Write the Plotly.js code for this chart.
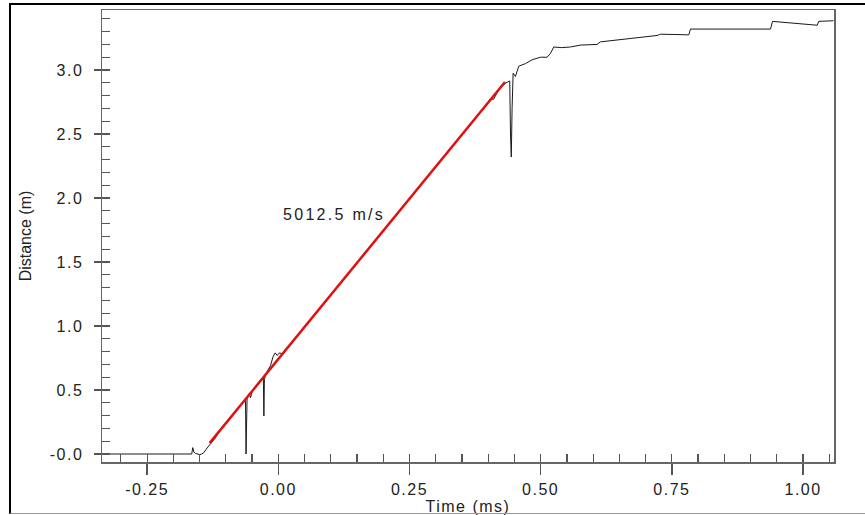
<!DOCTYPE html>
<html>
<head>
<meta charset="utf-8">
<script src="https://cdn.plot.ly/plotly-3.0.1.min.js"></script>
<style>
  html, body { margin: 0; padding: 0; background: #fff; }
  #wrap { position: relative; width: 865px; height: 515px; overflow: hidden; }
  #chart { position: absolute; left: 0; top: 0; width: 865px; height: 515px; }
  #frame { position: absolute; left: 9px; top: 3px; width: 900px; height: 508px;
           border-left: 2px solid #000; border-top: 2px solid #000; border-bottom: 1px solid #999;
           pointer-events: none; }
  .xtick text, .ytick text, .xtitle { letter-spacing: 1.5px; }
  .annotation-text { letter-spacing: 2.3px; }
</style>
</head>
<body>
<div id="wrap">
  <div id="chart"></div>
  <div id="frame"></div>
</div>
<script>
// Measured distance trace (time in ms, distance in m)
const timeMs = [
  -0.336, -0.165, -0.163, -0.161, -0.158, -0.154, -0.150, -0.146, -0.142, -0.138, -0.134, -0.130,
  -0.125, -0.120, -0.115, -0.110, -0.100, -0.090, -0.080, -0.072, -0.066, -0.0625, -0.0615, -0.0605,
  -0.0595, -0.056, -0.053, -0.050, -0.048, -0.044, -0.040, -0.035, -0.030, -0.0285, -0.0275, -0.0265,
  -0.024, -0.020, -0.015, -0.010, -0.006, -0.002, 0.002, 0.006, 0.012, 0.020, 0.030, 0.050,
  0.075, 0.100, 0.125, 0.150, 0.175, 0.200, 0.225, 0.250, 0.275, 0.300, 0.325, 0.350,
  0.370, 0.380, 0.395, 0.405, 0.410, 0.420, 0.432, 0.441, 0.4425, 0.4440, 0.4455, 0.4465,
  0.4475, 0.4519, 0.4582, 0.4709, 0.4837, 0.4995, 0.5123, 0.5186, 0.5249, 0.5400, 0.5567, 0.5758,
  0.6076, 0.6139, 0.6450, 0.6774, 0.7220, 0.7283, 0.7664, 0.7823, 0.7855, 0.8600, 0.9380, 0.9418,
  0.9700, 1.0000, 1.0270, 1.0300, 1.0580
];
const distanceM = [
  0.000, 0.000, 0.050, 0.015, 0.005, 0.000, -0.005, 0.000, 0.010, 0.035, 0.055, 0.075,
  0.105, 0.125, 0.160, 0.185, 0.240, 0.285, 0.335, 0.385, 0.410, 0.425, 0.000, 0.380,
  0.440, 0.470, 0.440, 0.485, 0.500, 0.515, 0.535, 0.565, 0.590, 0.600, 0.297, 0.580,
  0.625, 0.650, 0.690, 0.760, 0.790, 0.770, 0.790, 0.785, 0.805, 0.845, 0.890, 0.990,
  1.120, 1.245, 1.365, 1.495, 1.615, 1.745, 1.865, 1.995, 2.125, 2.240, 2.370, 2.495,
  2.590, 2.650, 2.720, 2.780, 2.770, 2.845, 2.895, 2.915, 2.500, 2.320, 2.700, 2.970,
  2.975, 2.950, 3.030, 3.050, 3.080, 3.100, 3.100, 3.130, 3.180, 3.175, 3.180, 3.195,
  3.200, 3.220, 3.235, 3.250, 3.270, 3.280, 3.280, 3.275, 3.320, 3.318, 3.320, 3.380,
  3.370, 3.360, 3.350, 3.380, 3.385
];
// Linear fit segment (5012.5 m/s)
const fitTimeMs = [-0.131, 0.432];
const fitDistanceM = [0.085, 2.907];
const fitLabel = '5012.5 m/s';
const fitLabelPos = [0.106, 1.875];

const xTickVals = [-0.25, 0.00, 0.25, 0.50, 0.75, 1.00];
const xTickText = ['-0.25', '0.00', '0.25', '0.50', '0.75', '1.00'];
const yTickVals = [0, 0.5, 1.0, 1.5, 2.0, 2.5, 3.0];
const yTickText = ['-0.0', '0.5', '1.0', '1.5', '2.0', '2.5', '3.0'];
const xRange = [-0.336, 1.059];
const yRange = [-0.0625, 3.469];

const font = {family: 'Liberation Sans, Arial, sans-serif', size: 16, color: '#222'};

const traces = [
  {x: timeMs, y: distanceM, type: 'scatter', mode: 'lines',
   line: {color: '#1a1a1a', width: 1}, hoverinfo: 'skip', showlegend: false},
  {x: fitTimeMs, y: fitDistanceM, type: 'scatter', mode: 'lines',
   line: {color: '#e01010', width: 2.5}, hoverinfo: 'skip', showlegend: false},
  {x: [], y: [], xaxis: 'x2', yaxis: 'y2', type: 'scatter', mode: 'lines', showlegend: false, hoverinfo: 'skip'}
];

const layout = {
  width: 865, height: 515,
  margin: {l: 102, r: 31, t: 10, b: 53},
  paper_bgcolor: 'rgba(0,0,0,0)', plot_bgcolor: '#fff',
  font: font,
  showlegend: false,
  xaxis: {
    range: xRange, tickmode: 'array', tickvals: xTickVals, ticktext: xTickText,
    ticks: 'outside', ticklen: 11, tickwidth: 1.5, tickcolor: '#555',
    showline: true, linecolor: '#666', linewidth: 1.5, mirror: true,
    showgrid: false, zeroline: false, ticklabelstandoff: 1,
    tickfont: font,
    title: {text: 'Time (ms)', font: font, standoff: 0}
  },
  yaxis: {
    range: yRange, tickmode: 'array', tickvals: yTickVals, ticktext: yTickText,
    ticks: 'outside', ticklen: 7, tickwidth: 1.5, tickcolor: '#555',
    showline: true, linecolor: '#666', linewidth: 1.5, mirror: true,
    showgrid: false, zeroline: false, ticklabelstandoff: 7,
    tickfont: font,
    title: {text: 'Distance (m)', font: font, standoff: 14}
  },
  xaxis2: {
    overlaying: 'x', anchor: 'y2', side: 'bottom', range: xRange,
    tickmode: 'linear', tick0: 0, dtick: 0.05, ticks: 'inside', ticklen: 8, tickwidth: 1.2, tickcolor: '#555',
    showticklabels: false, showline: false, showgrid: false, zeroline: false
  },
  yaxis2: {
    overlaying: 'y', anchor: 'x2', side: 'left', range: yRange,
    tickmode: 'linear', tick0: 0, dtick: 0.1, ticks: 'inside', ticklen: 8, tickwidth: 1.2, tickcolor: '#555',
    showticklabels: false, showline: false, showgrid: false, zeroline: false
  },
  annotations: [{
    x: fitLabelPos[0], y: fitLabelPos[1], xref: 'x', yref: 'y', text: fitLabel,
    showarrow: false, font: font, xanchor: 'center', yanchor: 'middle'
  }]
};

Plotly.newPlot('chart', traces, layout, {staticPlot: true, displayModeBar: false});
</script>
</body>
</html>
